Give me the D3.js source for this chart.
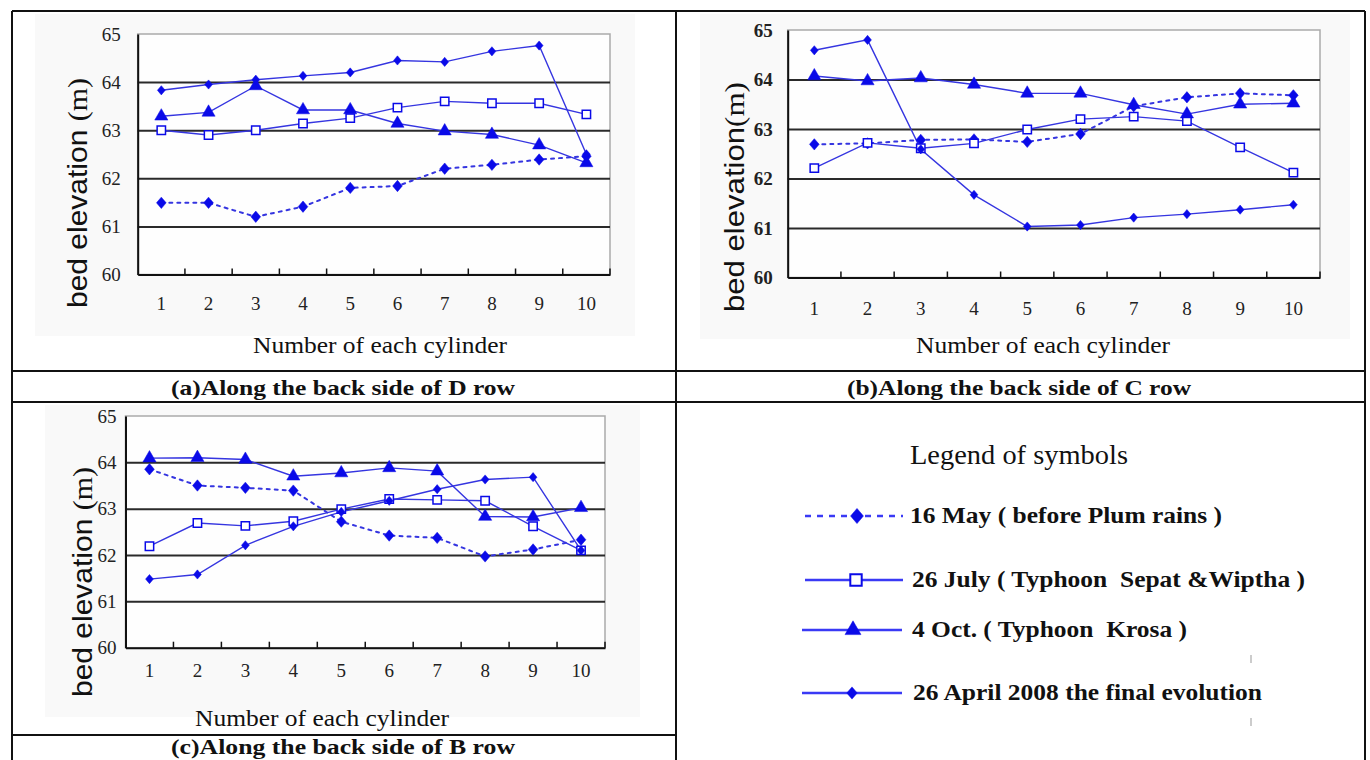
<!DOCTYPE html>
<html>
<head>
<meta charset="utf-8">
<script src="https://cdn.jsdelivr.net/npm/d3@7"></script>
<style>
  body { margin: 0; background: #fff; }
  svg { display: block; }
</style>
</head>
<body>
<svg id="chart" width="1370" height="760"></svg>
<script>
// data (bed elevation in m, cylinders 1..10)
const cylinders = ['1', '2', '3', '4', '5', '6', '7', '8', '9', '10'];
const yTicks = [60, 61, 62, 63, 64, 65];
const gridValues = [61, 62, 63, 64];

const legendLabels = [
  '16 May ( before Plum rains )',
  '26 July ( Typhoon  Sepat &Wiptha )',
  '4 Oct. ( Typhoon  Krosa )',
  '26 April 2008 the final evolution'
];

// (a) D row
const aMay = [61.49, 61.49, 61.2, 61.41, 61.8, 61.84, 62.2, 62.28, 62.39, 62.46];
const aJuly = [63.0, 62.9, 63.0, 63.14, 63.25, 63.47, 63.6, 63.56, 63.56, 63.33];
const aOct = [63.29, 63.37, 63.92, 63.42, 63.42, 63.14, 62.98, 62.91, 62.69, 62.32];
const aApril = [63.83, 63.95, 64.05, 64.13, 64.2, 64.45, 64.42, 64.64, 64.76, 62.5];

// (b) C row
const bMay = [62.69, 62.71, 62.78, 62.79, 62.74, 62.9, 63.46, 63.64, 63.72, 63.68];
const bJuly = [62.21, 62.72, 62.61, 62.71, 62.99, 63.2, 63.25, 63.16, 62.63, 62.12];
const bOct = [64.07, 63.97, 64.03, 63.9, 63.72, 63.72, 63.49, 63.3, 63.5, 63.52];
const bApril = [64.59, 64.8, 62.59, 61.67, 61.03, 61.06, 61.21, 61.28, 61.37, 61.47];

// (c) B row
const cMay = [63.85, 63.5, 63.45, 63.39, 62.72, 62.42, 62.37, 61.97, 62.12, 62.33];
const cJuly = [62.19, 62.69, 62.63, 62.73, 62.99, 63.21, 63.19, 63.17, 62.62, 62.1];
const cOct = [64.09, 64.1, 64.06, 63.7, 63.77, 63.88, 63.81, 62.83, 62.82, 63.02];
const cApril = [61.48, 61.58, 62.21, 62.62, 62.93, 63.17, 63.42, 63.63, 63.68, 62.1];

const svg = d3.select('#chart');
const SERIF = '"Liberation Serif", "Times New Roman", serif';
const SANS = '"Liberation Sans", Arial, sans-serif';
const LINE = '#3535e0';
const MARK = '#0a0ae8';

// diamond a bit wider than d3's default one
const wideDiamond = {
  draw(ctx, size) {
    const h = Math.sqrt(size) / 2;
    const w = h * 0.85;
    ctx.moveTo(0, -h);
    ctx.lineTo(w, 0);
    ctx.lineTo(0, h);
    ctx.lineTo(-w, 0);
    ctx.closePath();
  }
};

// marker style per series: May, July, Oct, April
const styles = [
  { dash: '3,5', type: wideDiamond, size: 130, fill: MARK, stroke: MARK },
  { dash: null, type: d3.symbolSquare, size: 70, fill: '#fff', stroke: MARK },
  { dash: null, type: d3.symbolTriangle, size: 75, fill: MARK, stroke: MARK },
  { dash: null, type: wideDiamond, size: 85, fill: MARK, stroke: MARK }
];

function drawPanel(p, series) {
  const g = svg.append('g');

  // faint grey block behind the chart
  g.append('rect')
    .attr('x', p.bg[0]).attr('y', p.bg[1])
    .attr('width', p.bg[2]).attr('height', p.bg[3])
    .attr('fill', '#f9f9f9');

  const x = d3.scaleBand().domain(cylinders).range([p.left, p.right]);
  const y = d3.scaleLinear().domain([60, 65]).range([p.bottom, p.top]);
  const cx = (i) => x(cylinders[i]) + x.bandwidth() / 2;

  g.append('rect')
    .attr('x', p.left).attr('y', p.top)
    .attr('width', p.right - p.left).attr('height', p.bottom - p.top)
    .attr('fill', '#fefefe')
    .attr('stroke', '#aaa')
    .attr('stroke-width', 1.5);

  // gridlines
  g.append('g')
    .attr('transform', `translate(${p.left},0)`)
    .call(d3.axisLeft(y).tickValues(gridValues).tickSize(-(p.right - p.left)).tickFormat(''))
    .call((s) => s.select('.domain').remove())
    .selectAll('line')
    .attr('stroke', '#2a2a2a')
    .attr('stroke-width', 2);

  // y axis
  g.append('g')
    .attr('transform', `translate(${p.left},0)`)
    .call(d3.axisLeft(y).tickValues(yTicks).tickFormat(d3.format('d')).tickSize(0).tickPadding(p.labelPad))
    .call((s) => s.select('.domain').attr('stroke', '#111').attr('stroke-width', 2))
    .selectAll('text')
    .attr('font-family', SERIF)
    .attr('font-size', 19)
    .attr('font-weight', p.boldTicks ? 'bold' : 'normal')
    .attr('fill', '#222');

  // x axis: labels centred in each band, inner ticks on band edges
  const xa = g.append('g')
    .attr('transform', `translate(0,${p.bottom})`)
    .call(d3.axisBottom(x).tickSize(0).tickPadding(p.bottomPad));
  xa.select('.domain').attr('stroke', '#111').attr('stroke-width', 2);
  xa.selectAll('text')
    .attr('font-family', SERIF)
    .attr('font-size', 19)
    .attr('fill', '#222');

  g.selectAll('.band-tick')
    .data(cylinders.slice(1).concat(['end']))
    .join('line')
    .attr('x1', (d) => (d === 'end' ? p.right : x(d)))
    .attr('x2', (d) => (d === 'end' ? p.right : x(d)))
    .attr('y1', p.bottom)
    .attr('y2', p.bottom - 6)
    .attr('stroke', '#111')
    .attr('stroke-width', 1.5);

  const line = d3.line()
    .x((d, i) => cx(i))
    .y((d) => y(d));

  series.forEach((vals, k) => {
    const st = styles[k];
    g.append('path')
      .datum(vals)
      .attr('fill', 'none')
      .attr('stroke', LINE)
      .attr('stroke-width', k === 0 ? 2 : 1.4)
      .attr('stroke-dasharray', st.dash)
      .attr('stroke-linecap', k === 0 ? 'round' : 'butt')
      .attr('d', line);
  });

  series.forEach((vals, k) => {
    const st = styles[k];
    g.selectAll(null)
      .data(vals)
      .join('path')
      .attr('transform', (d, i) => `translate(${cx(i)},${y(d)})`)
      .attr('d', d3.symbol().type(st.type).size(st.size))
      .attr('fill', st.fill)
      .attr('stroke', st.stroke)
      .attr('stroke-width', k === 1 ? 1.5 : 0.5);
  });

  // axis titles
  const yt = g.append('text')
    .attr('transform', `translate(${p.yTitle[0]},${p.yTitle[1]}) rotate(-90)`)
    .attr('text-anchor', 'middle')
    .attr('dominant-baseline', 'central')
    .attr('textLength', 230)
    .attr('lengthAdjust', 'spacingAndGlyphs')
    .attr('fill', '#111');
  yt.append('tspan').attr('font-family', SANS).attr('font-size', 28).text(p.yLabel);
  yt.append('tspan').attr('font-family', SERIF).attr('font-size', 28).text('(m)');

  g.append('text')
    .attr('x', p.xTitle[0]).attr('y', p.xTitle[1])
    .attr('text-anchor', 'middle')
    .attr('dominant-baseline', 'central')
    .attr('font-family', SERIF)
    .attr('font-size', 24)
    .attr('textLength', 254)
    .attr('lengthAdjust', 'spacingAndGlyphs')
    .attr('fill', '#111')
    .text('Number of each cylinder');

  g.append('text')
    .attr('x', p.caption[0]).attr('y', p.caption[1])
    .attr('text-anchor', 'middle')
    .attr('dominant-baseline', 'central')
    .attr('font-family', SERIF)
    .attr('font-weight', 'bold')
    .attr('font-size', p.captionSize)
    .attr('textLength', 344)
    .attr('lengthAdjust', 'spacingAndGlyphs')
    .attr('fill', '#111')
    .text(p.captionText);
}

drawPanel({
  left: 137.7, right: 610, top: 34, bottom: 274.5,
  labelPad: 17, bottomPad: 22, boldTicks: false,
  bg: [35, 14, 600, 322],
  yLabel: 'bed elevation ', yTitle: [77, 193],
  xTitle: [380, 345],
  caption: [343, 387], captionSize: 22, captionText: '(a)Along the back side of D row'
}, [aMay, aJuly, aOct, aApril]);

drawPanel({
  left: 787.7, right: 1320, top: 30, bottom: 277.5,
  labelPad: 15, bottomPad: 24, boldTicks: true,
  bg: [700, 14, 650, 325],
  yLabel: 'bed elevation', yTitle: [734, 197],
  xTitle: [1043, 345],
  caption: [1019, 387], captionSize: 22, captionText: '(b)Along the back side of C row'
}, [bMay, bJuly, bOct, bApril]);

drawPanel({
  left: 125.5, right: 605, top: 416, bottom: 647.7,
  labelPad: 9, bottomPad: 16, boldTicks: false,
  bg: [45, 405, 595, 312],
  yLabel: 'bed elevation ', yTitle: [82, 582],
  xTitle: [322, 718],
  caption: [343, 747], captionSize: 20, captionText: '(c)Along the back side of B row'
}, [cMay, cJuly, cOct, cApril]);

// table frame
const frame = svg.append('g').attr('stroke', '#111').attr('stroke-width', 2);
[
  [12, 11, 1365, 11],
  [12, 371, 1365, 371],
  [12, 402, 1365, 402],
  [12, 735, 676, 735],
  [12, 11, 12, 760],
  [676, 11, 676, 760],
  [1365, 11, 1365, 760]
].forEach(([x1, y1, x2, y2]) => {
  frame.append('line').attr('x1', x1).attr('y1', y1).attr('x2', x2).attr('y2', y2);
});

// legend
const legend = svg.append('g');
legend.append('text')
  .attr('x', 910).attr('y', 455)
  .attr('dominant-baseline', 'central')
  .attr('font-family', SERIF)
  .attr('font-size', 27)
  .attr('textLength', 218)
  .attr('lengthAdjust', 'spacingAndGlyphs')
  .attr('fill', '#111')
  .text('Legend of symbols');

const legendRows = [
  { y: 516, x1: 805, x2: 903, mx: 857, tx: 910, tw: 312, size: 230 },
  { y: 580, x1: 805, x2: 903, mx: 856, tx: 912, tw: 393, size: 130 },
  { y: 630, x1: 802, x2: 902, mx: 853, tx: 912, tw: 275, size: 110 },
  { y: 693, x1: 802, x2: 902, mx: 852, tx: 913, tw: 349, size: 150 }
];

legendRows.forEach((r, k) => {
  const st = styles[k];
  legend.append('line')
    .attr('x1', r.x1).attr('x2', r.x2)
    .attr('y1', r.y).attr('y2', r.y)
    .attr('stroke', '#3a3af5')
    .attr('stroke-width', 2.5)
    .attr('stroke-dasharray', k === 0 ? '6,6' : null);
  legend.append('path')
    .attr('transform', `translate(${r.mx},${r.y})`)
    .attr('d', d3.symbol().type(st.type).size(r.size))
    .attr('fill', st.fill)
    .attr('stroke', st.stroke)
    .attr('stroke-width', k === 1 ? 2 : 0.5);
  legend.append('text')
    .attr('x', r.tx).attr('y', r.y - 1)
    .attr('dominant-baseline', 'central')
    .attr('font-family', SERIF)
    .attr('font-weight', 'bold')
    .attr('font-size', 24)
    .attr('textLength', r.tw)
    .attr('lengthAdjust', 'spacingAndGlyphs')
    .attr('fill', '#111')
    .style('white-space', 'pre')
    .text(legendLabels[k]);
});

// two stray tick marks in the scan
[659, 722].forEach((yy) => {
  legend.append('line')
    .attr('x1', 1251).attr('x2', 1251)
    .attr('y1', yy - 4).attr('y2', yy + 4)
    .attr('stroke', '#999').attr('stroke-width', 1);
});
</script>
</body>
</html>
